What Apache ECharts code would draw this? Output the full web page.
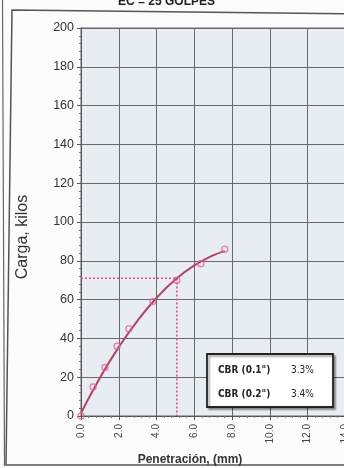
<!DOCTYPE html>
<html>
<head>
<meta charset="utf-8">
<script src="https://cdn.jsdelivr.net/npm/echarts@6/dist/echarts.min.js"></script>
<style>
html,body{margin:0;padding:0;background:#fcfcfc;}
#c{width:344px;height:468px;}
</style>
</head>
<body>
<div id="c"></div>
<script>
// Measured points (penetration mm, load kg)
var penetration = [0, 0.64, 1.27, 1.91, 2.54, 3.81, 5.08, 6.35, 7.62];
var load = [0, 15, 25, 36, 45, 59, 70, 78.5, 86];
// Trend curve
var curveX = [0, 1, 2, 3, 4, 5, 6, 7, 7.62];
var curveY = [1.5, 19.6, 35.5, 49.2, 60.8, 70.3, 77.6, 82.8, 85.0];
// CBR 0.2" reference reading
var refX = [0, 5.08, 5.08];
var refY = [71, 71, 0];
// Axis ticks
var xTicks = [0, 2, 4, 6, 8, 10, 12, 14, 16];
var yTicks = [0, 20, 40, 60, 80, 100, 120, 140, 160, 180, 200];
// Results table
var cbrLabels = ['CBR (0.1")', 'CBR (0.2")'];
var cbrValues = ['3.3%', '3.4%'];
var chartTitle = 'EC = 25 GOLPES';

function pairs(a, b) { return a.map(function (v, i) { return [v, b[i]]; }); }

var chart = echarts.init(document.getElementById('c'), null, {renderer: 'canvas'});
var axisFont = 'Liberation Sans, Arial, sans-serif';
var condFont = 'DejaVu Sans Condensed, Liberation Sans Narrow, sans-serif';

chart.setOption({
  animation: false,
  backgroundColor: '#fcfcfc',
  grid: {
    left: 81, right: -39, top: 28, bottom: 52,
    outerBoundsMode: 'none', containLabel: false,
    show: true, backgroundColor: '#e8ecf3', borderColor: '#666', borderWidth: 1
  },
  xAxis: {
    type: 'value', min: xTicks[0], max: xTicks[xTicks.length - 1], interval: 2,
    name: 'Penetración, (mm)', nameLocation: 'middle', nameGap: 38,
    nameTextStyle: {fontFamily: axisFont, fontSize: 12, fontWeight: 'bold', color: '#333', padding: [0, 84, 0, 0]},
    axisLine: {show: true, lineStyle: {color: '#555', width: 1}},
    axisTick: {show: true, length: 4, lineStyle: {color: '#555'}},
    minorTick: {show: true, splitNumber: 5, length: 2, lineStyle: {color: '#777'}},
    splitLine: {show: true, lineStyle: {color: '#6a6a6a', width: 1}},
    axisLabel: {rotate: 90, fontFamily: axisFont, fontSize: 10, color: '#444', margin: 8,
      formatter: function (v) { return v.toFixed(1); }}
  },
  yAxis: {
    type: 'value', min: yTicks[0], max: yTicks[yTicks.length - 1], interval: 20,
    name: 'Carga, kilos', nameLocation: 'middle', nameGap: 50, nameRotate: 90,
    nameTextStyle: {fontFamily: axisFont, fontSize: 16, color: '#333', padding: [0, 30, 0, 0]},
    axisLine: {show: true, lineStyle: {color: '#555', width: 1}},
    axisTick: {show: true, length: 4, lineStyle: {color: '#555'}},
    minorTick: {show: true, splitNumber: 5, length: 2, lineStyle: {color: '#777'}},
    splitLine: {show: true, lineStyle: {color: '#6a6a6a', width: 1}},
    axisLabel: {fontFamily: axisFont, fontSize: 12.5, color: '#333', margin: 7}
  },
  series: [
    {
      type: 'line', data: pairs(refX, refY), symbol: 'none', silent: true,
      lineStyle: {color: '#e2508a', width: 1.6, type: [2, 2]}, z: 2
    },
    {
      type: 'line', data: pairs(curveX, curveY), smooth: true, symbol: 'none',
      lineStyle: {color: '#b0455f', width: 2}, z: 3
    },
    {
      type: 'scatter', data: pairs(penetration, load), symbol: 'circle', symbolSize: 6,
      itemStyle: {color: 'rgba(255,255,255,0)', borderColor: '#e4609a', borderWidth: 1.3}, z: 4
    }
  ],
  graphic: [
    {type: 'line', shape: {x1: 2.5, y1: 0, x2: 4.5, y2: 466}, style: {stroke: '#666', lineWidth: 1.2}},
    {type: 'polyline', shape: {points: [[360, 14], [12, 10], [6, 465], [360, 465]]},
      style: {stroke: '#555', lineWidth: 1.5, fill: null}},
    {type: 'text', left: 118, top: -4, style: {text: chartTitle, font: 'bold 12px ' + axisFont, fill: '#222'}},
    {type: 'rect', shape: {x: 207, y: 354, width: 126, height: 53},
      style: {fill: '#ffffff', stroke: '#222', lineWidth: 1.8, shadowBlur: 2, shadowOffsetX: 2, shadowOffsetY: 2, shadowColor: 'rgba(0,0,0,0.35)'}, z: 10},
    {type: 'text', x: 218, y: 370, style: {text: cbrLabels[0], font: 'bold 10px ' + condFont, fill: '#222', textVerticalAlign: 'middle'}, z: 11},
    {type: 'text', x: 291, y: 370, style: {text: cbrValues[0], font: '10px ' + condFont, fill: '#222', textVerticalAlign: 'middle'}, z: 11},
    {type: 'text', x: 218, y: 394, style: {text: cbrLabels[1], font: 'bold 10px ' + condFont, fill: '#222', textVerticalAlign: 'middle'}, z: 11},
    {type: 'text', x: 291, y: 394, style: {text: cbrValues[1], font: '10px ' + condFont, fill: '#222', textVerticalAlign: 'middle'}, z: 11}
  ]
});
</script>
</body>
</html>
